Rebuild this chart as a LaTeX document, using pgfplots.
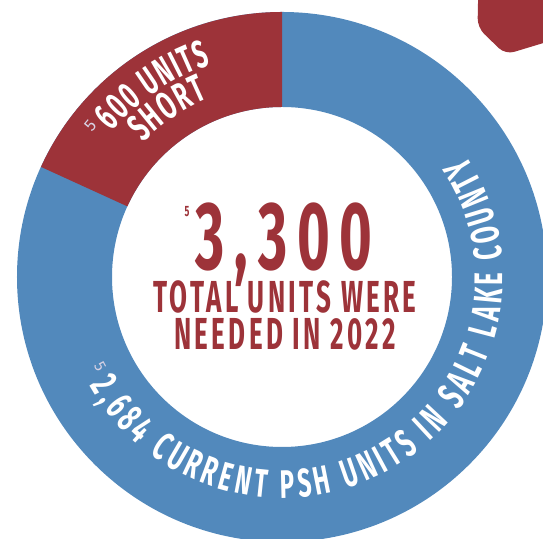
\documentclass[border=0pt]{standalone}
\usepackage{pgfplots}
\pgfplotsset{compat=1.18}
\usepackage{fontspec}
\setmainfont{Fira Sans}
\newfontfamily\bebas[FakeStretch=0.6]{Fira Sans}
\newfontfamily\bebasbig[FakeStretch=0.58,LetterSpace=10]{Fira Sans}
\newfontfamily\bebasls[FakeStretch=0.58,LetterSpace=7.5]{Fira Sans}
\usetikzlibrary{decorations.text}
\definecolor{pshblue}{HTML}{5289BC}
\definecolor{pshred}{HTML}{9D3339}
\definecolor{fnote}{HTML}{D8D2E4}
% data
\def\shortunits{600}
\def\currentunits{2684}
\def\totalunits{3300}
\pgfmathsetmacro{\redend}{90+\shortunits/\totalunits*360}
\def\C{axis cs:282,262}
\begin{document}
\begin{tikzpicture}
\begin{axis}[x=1bp,y=1bp,xmin=0,xmax=543,ymin=0,ymax=539,hide axis,clip=true]
\addplot[draw=none] coordinates {(0,0) (543,539)};
% ring
\fill[pshblue,even odd rule] (\C) circle[radius=265bp] (\C) circle[radius=170bp];
\fill[pshred] ([shift={(90:265bp)}]\C) arc[start angle=90,end angle=\redend,radius=265bp]
  -- ([shift={(\redend:170bp)}]\C) arc[start angle=\redend,end angle=90,radius=170bp] -- cycle;
% decorative blob
\addplot[fill=pshred,draw=none,rounded corners=9bp] coordinates {(478.5,560) (477.5,511.5) (505.4,484.5) (560,501) (560,560)};
% ring text
\path[decorate,decoration={text along path,text align=fit to path,
  text={|\bebas\bfseries\fontsize{40}{40}\selectfont\color{white}|2,684 CURRENT PSH UNITS IN SALT LAKE COUNTY}}]
  ([shift={(209.5:221bp)}]\C) arc[start angle=209.5,end angle=393.5,radius=221bp];
% red label
\path[decorate,decoration={text along path,text align=fit to path,
  text={|\bebas\bfseries\fontsize{39}{39}\selectfont\color{white}|600 UNITS}}]
  ([shift={(139.5:224bp)}]\C) arc[start angle=139.5,end angle=108.5,radius=224bp];
\path[decorate,decoration={text along path,text align=fit to path,
  text={|\bebas\bfseries\fontsize{39}{39}\selectfont\color{white}|SHORT}}]
  ([shift={(136:193bp)}]\C) arc[start angle=136,end angle=112.5,radius=193bp];
% footnote marks
\node[text=fnote,font=\fontsize{17}{17}\selectfont,rotate=50,inner sep=0pt] at ([shift={(141.8:244bp)}]\C) {5};
\node[text=fnote,font=\fontsize{16}{16}\selectfont,rotate=-62,inner sep=0pt] at ([shift={(206.3:203bp)}]\C) {5};
\node[text=pshred,font=\bebas\bfseries\fontsize{15}{15}\selectfont,inner sep=0pt] at (axis cs:187,327) {5};
% centre text
\node[text=pshred,font=\bebasbig\bfseries\fontsize{97}{97}\selectfont,anchor=base,inner sep=0pt] at (axis cs:284,269) {3,300};
\node[text=pshred,font=\bebasls\bfseries\fontsize{45}{45}\selectfont,anchor=base,inner sep=0pt] at (axis cs:285,226) {TOTAL UNITS WERE};
\node[text=pshred,font=\bebasls\bfseries\fontsize{45}{45}\selectfont,anchor=base,inner sep=0pt] at (axis cs:285,189) {NEEDED IN 2022};
\end{axis}
\pgfresetboundingbox
\useasboundingbox (current axis.south west) rectangle (current axis.north east);
\end{tikzpicture}
\end{document}
